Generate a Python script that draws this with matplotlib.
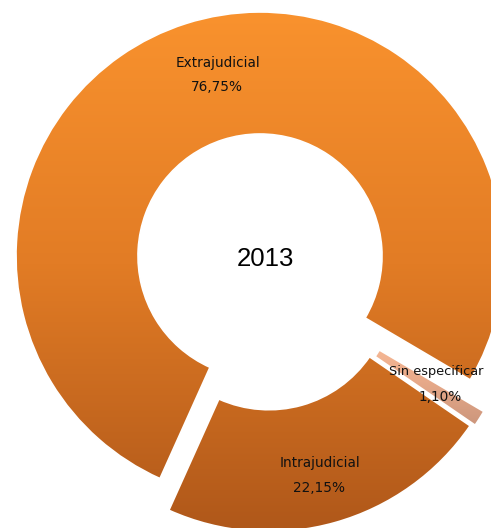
import numpy as np
import matplotlib.pyplot as plt
from matplotlib.colors import LinearSegmentedColormap

labels = ['Extrajudicial', 'Intrajudicial', 'Sin especificar']
values = [76.75, 22.15, 1.10]
pct_text = ['76,75%', '22,15%', '1,10%']
year = '2013'

# pixel geometry of the reference
W, H = 491, 528
cx, cy, R = 260, 256, 244


def to_data(px, py):
    return (px - cx) / R, (cy - py) / R


fig = plt.figure(figsize=(W / 100, H / 100), dpi=100)
ax = fig.add_axes([0, 0, 1, 1])

wedges, _ = ax.pie(values, startangle=-30.5, counterclock=True,
                   explode=[0, 0.135, 0.0], radius=1,
                   wedgeprops=dict(width=0.5, edgecolor='white', linewidth=1.2))

# the small slice sits with the lower slice, pushed out a little further
ix, iy = wedges[1].center
mid = np.deg2rad((wedges[2].theta1 + wedges[2].theta2) / 2)
wedges[2].set_center((ix + 0.025 * np.cos(mid), iy + 0.025 * np.sin(mid) + 0.014))
wedges[2].set_linewidth(1.7)

ext = [-cx / R, (W - cx) / R, -(H - cy) / R, cy / R]
sin_ext = [ext[0], ext[1], to_data(0, 425)[1], to_data(0, 335)[1]]
grad = np.linspace(0, 1, 256).reshape(-1, 1)
main_cmap = LinearSegmentedColormap.from_list('m', ['#fa932e', '#e27c25', '#b0581a'])
light_cmap = LinearSegmentedColormap.from_list('l', ['#fcbd98', '#e8aa8a', '#cc967c'])

for w, cmap, e in zip(wedges, [main_cmap, main_cmap, light_cmap],
                      [ext, ext, sin_ext]):
    w.set_facecolor('none')
    im = ax.imshow(grad, cmap=cmap, extent=e, aspect='auto', origin='upper',
                   interpolation='bilinear')
    im.set_clip_path(w)

# labels
label_pos = [(218, 63), (320, 463), (436, 372)]
pct_pos = [(217, 87), (319, 488), (440, 397)]
label_size = [9.8, 9.8, 9.3]
for lab, pt, lp, pp, fs in zip(labels, pct_text, label_pos, pct_pos, label_size):
    ax.text(*to_data(*lp), lab, ha='center', va='center', fontsize=fs,
            color='#111111', family='DejaVu Sans')
    ax.text(*to_data(*pp), pt, ha='center', va='center', fontsize=9.8,
            color='#111111', family='DejaVu Sans')

ax.text(*to_data(265, 259), year, ha='center', va='center', fontsize=18.5,
        color='black', family='Liberation Sans')

ax.set_xlim(ext[0], ext[1])
ax.set_ylim(ext[2], ext[3])
ax.set_aspect('equal')
ax.axis('off')

fig.savefig('out.png', dpi=100)
